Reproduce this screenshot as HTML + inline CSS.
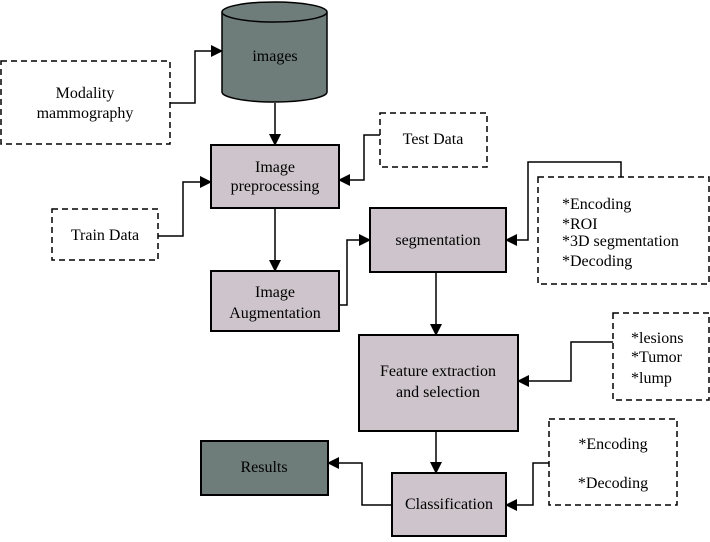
<!DOCTYPE html>
<html><head><style>body{margin:0;background:#fff}</style></head><body>
<svg width="710" height="537" viewBox="0 0 710 537" xmlns="http://www.w3.org/2000/svg" font-family="Liberation Serif, serif" font-size="16" fill="#000">
<defs><marker id="a" markerWidth="12" markerHeight="12" refX="11" refY="6" orient="auto" markerUnits="userSpaceOnUse"><path d="M0,0 L12,6 L0,12 z" fill="#000"/></marker></defs>
<g stroke="#000" stroke-width="1.5">
<path d="M222,12 L222,92 A52.5,10 0 0 0 327,92 L327,12" fill="#6e7c7a"/>
<ellipse cx="274.5" cy="12" rx="52.5" ry="10" fill="#6e7c7a"/>
<g fill="#cdc5cb" stroke-width="2">
<rect x="211" y="145" width="128" height="63"/>
<rect x="211" y="271" width="128" height="60"/>
<rect x="370" y="208" width="136" height="64"/>
<rect x="359" y="335" width="159" height="96"/>
<rect x="392" y="473" width="114" height="63"/>
</g>
<rect x="201" y="441" width="127" height="54" fill="#6e7c7a" stroke-width="2"/>
<g fill="#fff" stroke-dasharray="6,4">
<rect x="1" y="61" width="169" height="83"/>
<rect x="52" y="209" width="106" height="51"/>
<rect x="380" y="113" width="107" height="54"/>
<rect x="538" y="177" width="171" height="107"/>
<rect x="613" y="313" width="96" height="87"/>
<rect x="549" y="419" width="128" height="86"/>
</g>
<g fill="none" marker-end="url(#a)">
<path d="M170,103 H195 V51 H222"/>
<path d="M275,103 V145"/>
<path d="M158,236 H183 V182 H211"/>
<path d="M380,135 H364 V180 H339"/>
<path d="M275,208 V271"/>
<path d="M339,305 H347 V240 H370"/>
<path d="M621,177 V162 H528 V240 H506"/>
<path d="M436,272 V335"/>
<path d="M613,342 H571 V381 H518"/>
<path d="M436,431 V473"/>
<path d="M549,463 H533 V505 H506"/>
<path d="M392,505 H362 V463 H328"/>
</g>
</g>
<g text-anchor="middle">
<text x="275" y="61">images</text>
<text x="85" y="98">Modality</text><text x="85" y="118">mammography</text>
<text x="275" y="172">Image</text><text x="275" y="191">preprocessing</text>
<text x="105" y="240">Train Data</text>
<text x="433" y="144">Test Data</text>
<text x="275" y="297">Image</text><text x="275" y="318">Augmentation</text>
<text x="438" y="245">segmentation</text>
<text x="438" y="376">Feature extraction</text><text x="438" y="397">and selection</text>
<text x="449" y="509">Classification</text>
<text x="264" y="472">Results</text>
<text x="613" y="449">*Encoding</text><text x="613" y="488">*Decoding</text>
</g>
<text x="562" y="209">*Encoding</text>
<text x="562" y="229">*ROI</text>
<text x="562" y="246">*3D segmentation</text>
<text x="562" y="266">*Decoding</text>
<text x="631" y="343">*lesions</text>
<text x="631" y="362">*Tumor</text>
<text x="631" y="383">*lump</text>
</svg>
</body></html>
